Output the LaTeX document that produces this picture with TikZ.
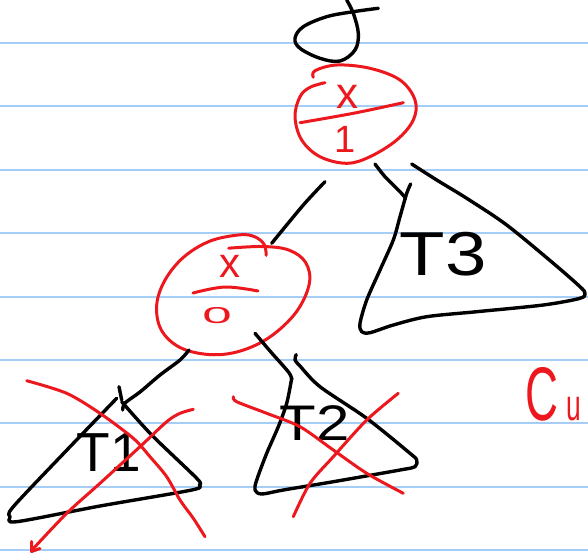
\documentclass[tikz,border=0pt]{standalone}
\usepackage{fontspec}
\setmainfont{Liberation Sans}
\newfontfamily\widehand[FakeStretch=1.2]{Liberation Sans}
\newfontfamily\narrowhand[FakeStretch=0.6]{Liberation Sans}
\newfontfamily\flathand[FakeStretch=2.3]{Liberation Sans}
\definecolor{redpen}{RGB}{237,24,30}
\definecolor{ruleblue}{RGB}{165,205,245}
\begin{document}
\begin{tikzpicture}[x=1pt,y=-1pt,
  ink/.style={line width=3.4pt, line cap=round, line join=round},
  blk/.style={ink, draw=black},
  rd/.style={ink, draw=redpen, line width=3pt},
  ruleline/.style={draw=ruleblue, line width=2pt},
  hw/.style={inner sep=0pt, outer sep=0pt},
  blktext/.style={hw, text=black},
  redtext/.style={hw, text=redpen}]
\useasboundingbox (0,0) rectangle (588,555);
\fill[white] (0,0) rectangle (588,555);
% ruled paper
\foreach \k in {0,...,8} \draw[ruleline] (0,{43+63.4*\k}) -- (588,{43+63.4*\k});

% leftover loop at the top
\draw[blk] plot[smooth, tension=0.6] coordinates {(346.7,0) (353.3,13.3) (358.3,33.3) (355,50) (340,61) (320,58.3) (300,48.3) (295,38.3) (303.3,26.7) (326.7,16.7) (353.3,11.7) (378.3,8.3)};

% top node (red circle)
\draw[rd] plot[smooth, tension=0.6] coordinates {(313.3,77.3) (315,70.7) (336.7,65) (370,68.3) (400,80) (415,100) (413.3,120) (396.7,140) (370,156.7) (346.7,163.3) (320,156.7) (301.7,140) (295,116.7) (300,96.7) (310,87.3) (325,82.7)};
\node[redtext, font=\fontsize{44}{44}\selectfont] (topx) at (347,97) {x};
\draw[rd] plot[smooth, tension=0.6] coordinates {(300,122.7) (353.3,113.3) (403.3,102.7)};
\node[redtext, font=\fontsize{38}{38}\selectfont] (topone) at (345,139) {1};

% left child node (red tilted ellipse)
\draw[rd] plot[smooth, tension=0.6] coordinates {(228.7,248.2) (262.5,246.5) (288.7,250) (305.6,262.4) (309.3,283.7) (296.2,312.1) (270,336.9) (240,351.1) (210,354.6) (180,347.5) (161.2,329.8) (156.7,305) (165,280.1) (183.7,257.1) (210,241.1) (240,234.8) (255,236.9) (264.3,244.7) (266.2,255.3)};
\node[redtext, font=\fontsize{42}{42}\selectfont] (lowx) at (230,266) {x};
\draw[rd] plot[smooth, tension=0.6] coordinates {(193,293) (225,287) (258,291)};
\node[redtext, font=\flathand\fontsize{23}{23}\selectfont] (lowzero) at (217,316) {0};

% connectors
\draw[blk] plot[smooth, tension=0.5] coordinates {(325,181.7) (303.3,205) (271.7,243.3)};
\draw[blk] plot[smooth, tension=0.5] coordinates {(375,164) (385,176.7) (400,191.7) (405.7,198.3)};
\draw[blk] plot[smooth, tension=0.5] coordinates {(189,350) (180,360) (160,375) (140,392) (125,403) (122.7,410)};
\draw[blk] plot[smooth, tension=0.5] coordinates {(255,333.3) (270,351) (288.7,372.3) (291.7,379.4)};

% T3
\draw[blk] plot[smooth, tension=0.5] coordinates {(410.7,184) (406.7,193.3) (400,216.7) (393.3,240) (380,270) (366.7,300) (360,323.3) (361.7,331.7) (370,332.7) (393.3,325) (426.7,316.7) (476.7,311.7) (543.3,305) (580,298.3) (585,293.3) (580,286.7) (553.3,263.3) (506.7,225) (466.7,198.3) (436.7,180) (411.7,164)};
\node[blktext, font=\widehand\fontsize{62}{62}\selectfont] (tthree) at (443,254) {T3};

% T1
\draw[blk] (119,386.7) -- (121.7,400);
\draw[blk] plot[smooth, tension=0.5] coordinates {(116.7,398.3) (65,452) (13.3,506.7) (10,516.7) (16.7,521.7) (100,506) (191.7,490) (199.3,485) (196.7,478.3) (151.7,435) (121.7,401.7)};
\node[blktext, font=\fontsize{55}{55}\selectfont] (tone) at (109,453) {T1};

% T2
\draw[blk] plot[smooth, tension=0.5] coordinates {(291.7,378.3) (286.7,403.3) (278.3,426.7) (266.7,453.3) (256.7,480) (255,490) (261.7,494) (283.3,490) (333.3,481.7) (400,470) (415,466.7) (416.7,460) (410,453.3) (366.7,418.3) (320,386.7) (300,366) (295,360) (296.2,354.6)};
\node[blktext, font=\widehand\fontsize{50}{50}\selectfont] (ttwo) at (315,423) {T2};

% red crosses
\draw[rd] plot[smooth, tension=0.5] coordinates {(26.7,380.7) (66.7,393.3) (100,413.3) (133.3,438.3) (150,456.7) (166.7,476.7) (180,500) (193.3,518.3) (205,536.7)};
\draw[rd] plot[smooth, tension=0.5] coordinates {(193.3,409.3) (180,413.3) (166.7,421.7) (140,446.7) (100,483.3) (66.7,513.3) (32,550)};
\draw[rd] (31.7,541.5) -- (31.5,551.5) -- (40,548.5);
\draw[rd] plot[smooth, tension=0.5] coordinates {(233.3,396.7) (236.7,401.7) (266.7,413.3) (300,426.7) (333.3,450) (366.7,473.3) (403.3,493.3)};
\draw[rd] plot[smooth, tension=0.5] coordinates {(398.3,393.3) (366.7,420) (333.3,456.7) (310,483.3) (293.3,516.7)};

% cut-off word at the right edge
\begin{scope}
\clip (0,0) rectangle (588,555);
\node[redtext, anchor=base west, font=\narrowhand\fontsize{76}{76}\selectfont] (cu) at (525,420) {C\kern9pt{\fontsize{44}{44}\selectfont u}};
\end{scope}
\end{tikzpicture}
\end{document}
